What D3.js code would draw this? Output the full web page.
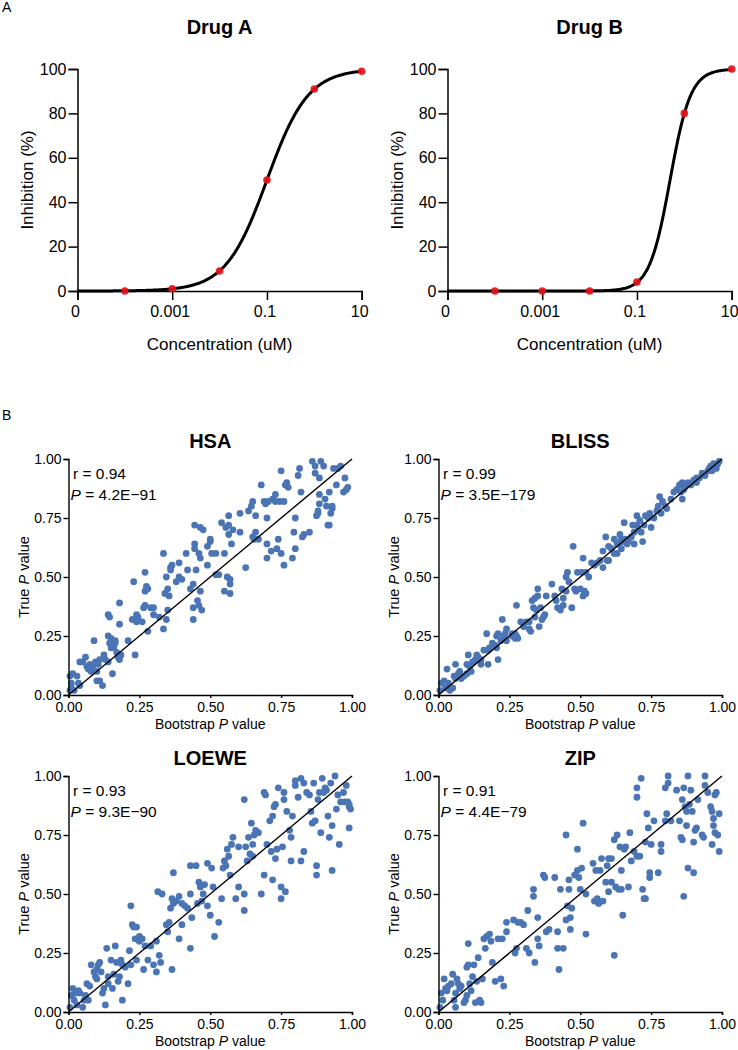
<!DOCTYPE html>
<html>
<head>
<meta charset="utf-8">
<script src="https://cdn.jsdelivr.net/npm/d3@7"></script>
<style>
  body { margin: 0; background: #fff; }
  svg { display: block; }
</style>
</head>
<body>
<svg id="chart" width="738" height="1050"></svg>
<script>
// ---------------- DATA ----------------
const concentrations = [1e-4, 1e-3, 1e-2, 1e-1, 1, 10];
const drugAInhibition = [0, 1, 9, 50, 91, 99];
const drugBInhibition = [0, 0, 0, 4, 80, 100];
// fitted dose-response parameters
const drugAIC50 = 0.1, drugAHill = 1;
const drugBIC50 = 0.5, drugBHill = 2;
const concTickValues = [1e-5, 1e-3, 1e-1, 10];
const concTickLabels = ["0", "0.001", "0.1", "10"];
const inhibitionTicks = [0, 20, 40, 60, 80, 100];
const pTicks = [0, 0.25, 0.5, 0.75, 1];

const hsaPoints = [
[0.005,0.02],[0.01,0.05],[0.005,0.08],[0.015,0.09],[0.03,0.08],[0.035,0.05],[0.02,0.02],[0.04,0.04],[0.04,0.14],[0.01,0.03],
[0.05,0.14],[0.06,0.16],[0.065,0.12],[0.07,0.11],[0.075,0.13],[0.08,0.10],[0.085,0.12],[0.09,0.23],[0.095,0.14],[0.10,0.06],
[0.10,0.10],[0.105,0.13],[0.11,0.15],[0.11,0.06],[0.12,0.04],[0.125,0.17],[0.13,0.15],[0.14,0.34],[0.145,0.33],[0.14,0.25],
[0.145,0.22],[0.15,0.24],[0.15,0.20],[0.14,0.14],[0.155,0.09],[0.16,0.20],[0.165,0.22],[0.165,0.23],[0.17,0.18],[0.175,0.16],
[0.18,0.30],[0.18,0.39],[0.18,0.15],[0.185,0.17],[0.21,0.23],[0.225,0.32],[0.23,0.48],[0.235,0.17],[0.24,0.34],[0.24,0.31],
[0.245,0.33],[0.26,0.31],[0.265,0.37],[0.27,0.44],[0.27,0.52],[0.275,0.46],[0.28,0.45],[0.28,0.27],[0.29,0.37],[0.30,0.37],
[0.30,0.34],[0.27,0.38],[0.32,0.33],[0.335,0.60],[0.335,0.28],[0.34,0.43],[0.345,0.50],[0.345,0.32],[0.35,0.36],[0.35,0.45],
[0.355,0.42],[0.36,0.54],[0.365,0.55],[0.36,0.53],[0.38,0.48],[0.39,0.50],[0.39,0.56],[0.40,0.49],[0.415,0.60],[0.42,0.53],
[0.43,0.45],[0.44,0.32],[0.44,0.37],[0.44,0.47],[0.445,0.64],[0.445,0.62],[0.445,0.72],[0.45,0.53],[0.455,0.40],[0.46,0.38],
[0.46,0.60],[0.465,0.58],[0.465,0.71],[0.465,0.44],[0.47,0.36],[0.475,0.70],[0.49,0.55],[0.49,0.63],[0.50,0.65],[0.50,0.66],
[0.505,0.60],[0.52,0.60],[0.53,0.51],[0.52,0.51],[0.55,0.44],[0.55,0.60],[0.54,0.73],[0.555,0.71],[0.56,0.50],[0.565,0.72],
[0.565,0.76],[0.565,0.68],[0.57,0.49],[0.57,0.47],[0.57,0.43],[0.58,0.70],[0.575,0.64],[0.605,0.69],[0.605,0.77],[0.625,0.54],
[0.635,0.78],[0.645,0.80],[0.65,0.82],[0.65,0.67],[0.655,0.66],[0.66,0.69],[0.66,0.76],[0.67,0.66],[0.68,0.89],[0.69,0.82],
[0.695,0.81],[0.70,0.58],[0.70,0.64],[0.70,0.75],[0.705,0.82],[0.715,0.61],[0.72,0.83],[0.73,0.82],[0.73,0.85],[0.735,0.62],
[0.74,0.66],[0.745,0.82],[0.75,0.95],[0.75,0.60],[0.76,0.55],[0.76,0.82],[0.765,0.89],[0.77,0.90],[0.775,0.88],[0.79,0.58],
[0.795,0.69],[0.80,0.75],[0.80,0.62],[0.81,0.93],[0.815,0.96],[0.82,0.86],[0.825,0.67],[0.83,0.68],[0.85,0.69],[0.86,0.99],
[0.87,0.97],[0.87,0.94],[0.875,0.76],[0.88,0.78],[0.88,0.77],[0.885,0.85],[0.885,0.92],[0.885,0.81],[0.89,0.99],[0.90,0.97],
[0.905,0.83],[0.91,0.80],[0.915,0.72],[0.92,0.72],[0.92,0.86],[0.925,0.77],[0.93,0.79],[0.93,0.80],[0.935,0.96],[0.945,0.89],
[0.95,0.96],[0.97,0.86],[0.975,0.92],[0.98,0.87],[0.985,0.88],[0.96,0.97]
];

const blissPoints = [
[0.005,0.02],[0.01,0.05],[0.02,0.06],[0.025,0.03],[0.03,0.11],[0.035,0.05],[0.04,0.02],[0.05,0.03],[0.055,0.08],[0.06,0.13],
[0.06,0.07],[0.07,0.09],[0.075,0.10],[0.08,0.07],[0.09,0.08],[0.10,0.13],[0.10,0.09],[0.105,0.17],[0.11,0.12],[0.115,0.10],
[0.12,0.14],[0.13,0.15],[0.135,0.17],[0.14,0.16],[0.15,0.15],[0.15,0.13],[0.16,0.19],[0.17,0.26],[0.175,0.19],[0.175,0.13],
[0.18,0.20],[0.19,0.22],[0.20,0.21],[0.205,0.20],[0.205,0.25],[0.21,0.15],[0.21,0.26],[0.22,0.23],[0.225,0.32],[0.23,0.25],
[0.235,0.26],[0.24,0.28],[0.24,0.23],[0.26,0.25],[0.27,0.24],[0.27,0.26],[0.275,0.38],[0.28,0.24],[0.29,0.31],[0.30,0.29],
[0.31,0.31],[0.32,0.31],[0.32,0.28],[0.325,0.27],[0.33,0.40],[0.335,0.37],[0.34,0.33],[0.34,0.41],[0.345,0.36],[0.35,0.45],
[0.35,0.42],[0.355,0.29],[0.36,0.37],[0.365,0.32],[0.37,0.33],[0.375,0.34],[0.38,0.42],[0.40,0.47],[0.41,0.42],[0.415,0.40],
[0.42,0.37],[0.43,0.36],[0.435,0.45],[0.44,0.38],[0.44,0.41],[0.45,0.44],[0.45,0.50],[0.455,0.52],[0.46,0.48],[0.47,0.37],
[0.475,0.63],[0.48,0.45],[0.485,0.44],[0.49,0.52],[0.50,0.45],[0.505,0.52],[0.51,0.42],[0.51,0.58],[0.515,0.44],[0.52,0.43],
[0.52,0.52],[0.53,0.50],[0.54,0.56],[0.55,0.55],[0.56,0.56],[0.57,0.57],[0.58,0.61],[0.58,0.54],[0.59,0.67],[0.595,0.57],
[0.60,0.63],[0.60,0.57],[0.61,0.62],[0.62,0.60],[0.62,0.66],[0.63,0.60],[0.635,0.64],[0.64,0.68],[0.645,0.62],[0.65,0.65],
[0.655,0.73],[0.66,0.66],[0.665,0.64],[0.67,0.65],[0.68,0.67],[0.685,0.72],[0.69,0.64],[0.69,0.69],[0.70,0.76],[0.70,0.72],
[0.705,0.70],[0.71,0.74],[0.715,0.69],[0.72,0.65],[0.725,0.72],[0.73,0.76],[0.74,0.75],[0.745,0.77],[0.75,0.71],[0.76,0.75],
[0.77,0.78],[0.775,0.80],[0.78,0.84],[0.785,0.77],[0.79,0.82],[0.80,0.80],[0.805,0.79],[0.82,0.83],[0.83,0.86],[0.84,0.87],
[0.85,0.89],[0.86,0.90],[0.86,0.83],[0.865,0.87],[0.87,0.88],[0.88,0.90],[0.89,0.89],[0.90,0.91],[0.91,0.92],[0.92,0.92],
[0.93,0.94],[0.94,0.93],[0.95,0.95],[0.955,0.96],[0.96,0.97],[0.965,0.95],[0.97,0.98],[0.975,0.97],[0.98,0.96],[0.985,0.98],
[0.99,0.99],[0.91,0.90],[0.855,0.86],[0.63,0.64],[0.645,0.66],[0.26,0.26],[0.275,0.25]
];

const loewePoints = [
[0.005,0.02],[0.01,0.07],[0.015,0.10],[0.02,0.05],[0.025,0.08],[0.03,0.03],[0.035,0.09],[0.04,0.08],[0.05,0.02],[0.055,0.05],
[0.06,0.07],[0.065,0.12],[0.07,0.05],[0.075,0.11],[0.08,0.20],[0.09,0.17],[0.095,0.15],[0.10,0.18],[0.10,0.14],[0.105,0.20],
[0.11,0.21],[0.115,0.17],[0.12,0.08],[0.125,0.10],[0.13,0.03],[0.135,0.27],[0.14,0.15],[0.14,0.12],[0.15,0.22],[0.155,0.10],
[0.16,0.16],[0.165,0.28],[0.17,0.21],[0.175,0.13],[0.18,0.15],[0.185,0.22],[0.19,0.05],[0.19,0.20],[0.20,0.19],[0.21,0.12],
[0.215,0.26],[0.22,0.45],[0.22,0.20],[0.225,0.37],[0.23,0.36],[0.235,0.31],[0.24,0.36],[0.24,0.22],[0.25,0.32],[0.25,0.30],
[0.26,0.31],[0.265,0.18],[0.27,0.28],[0.28,0.22],[0.29,0.28],[0.30,0.20],[0.31,0.17],[0.31,0.30],[0.315,0.51],[0.32,0.24],
[0.325,0.21],[0.33,0.50],[0.345,0.37],[0.35,0.34],[0.355,0.38],[0.36,0.44],[0.365,0.48],[0.365,0.18],[0.37,0.46],[0.37,0.59],
[0.38,0.47],[0.39,0.31],[0.39,0.49],[0.40,0.46],[0.40,0.37],[0.41,0.45],[0.42,0.44],[0.43,0.27],[0.43,0.50],[0.435,0.40],
[0.43,0.62],[0.45,0.62],[0.455,0.46],[0.46,0.55],[0.465,0.53],[0.47,0.47],[0.475,0.50],[0.48,0.54],[0.49,0.45],[0.49,0.63],
[0.50,0.41],[0.505,0.61],[0.51,0.53],[0.515,0.32],[0.53,0.38],[0.54,0.48],[0.545,0.61],[0.55,0.64],[0.555,0.62],[0.56,0.69],
[0.565,0.66],[0.57,0.58],[0.575,0.71],[0.58,0.74],[0.59,0.48],[0.60,0.70],[0.60,0.53],[0.62,0.50],[0.62,0.43],[0.62,0.90],
[0.625,0.70],[0.63,0.64],[0.635,0.74],[0.64,0.67],[0.645,0.80],[0.65,0.66],[0.65,0.71],[0.655,0.75],[0.66,0.77],[0.67,0.76],
[0.68,0.50],[0.69,0.58],[0.69,0.93],[0.695,0.92],[0.70,0.71],[0.71,0.81],[0.715,0.68],[0.72,0.83],[0.72,0.56],[0.725,0.87],
[0.73,0.88],[0.73,0.65],[0.735,0.69],[0.74,0.95],[0.75,0.53],[0.75,0.48],[0.755,0.70],[0.76,0.90],[0.76,0.93],[0.765,0.51],
[0.77,0.85],[0.78,0.77],[0.785,0.74],[0.785,0.64],[0.79,0.83],[0.80,0.96],[0.80,0.98],[0.81,0.91],[0.82,0.64],[0.82,0.99],
[0.83,0.97],[0.83,0.68],[0.84,0.93],[0.85,0.92],[0.855,0.85],[0.86,0.80],[0.865,0.97],[0.87,0.81],[0.875,0.62],[0.875,0.58],
[0.88,0.90],[0.885,0.93],[0.89,0.76],[0.895,0.99],[0.90,0.93],[0.905,0.95],[0.91,0.94],[0.915,0.83],[0.92,0.74],[0.925,0.97],
[0.93,0.60],[0.93,0.79],[0.94,1.00],[0.945,0.86],[0.95,0.92],[0.955,0.71],[0.96,0.89],[0.97,0.93],[0.975,0.89],[0.98,0.96],
[0.985,0.89],[0.99,0.87],[0.99,0.78],[0.99,0.88],[0.995,0.86]
];

const zipPoints = [
[0.005,0.02],[0.01,0.08],[0.015,0.05],[0.02,0.14],[0.025,0.10],[0.03,0.09],[0.035,0.11],[0.045,0.12],[0.05,0.16],[0.055,0.05],
[0.06,0.08],[0.06,0.02],[0.065,0.14],[0.07,0.12],[0.075,0.10],[0.08,0.11],[0.09,0.04],[0.095,0.05],[0.10,0.07],[0.10,0.19],
[0.105,0.20],[0.105,0.29],[0.11,0.12],[0.115,0.09],[0.12,0.15],[0.125,0.20],[0.13,0.04],[0.135,0.13],[0.14,0.23],[0.145,0.05],
[0.15,0.04],[0.155,0.14],[0.16,0.31],[0.165,0.27],[0.17,0.32],[0.18,0.33],[0.185,0.30],[0.19,0.21],[0.20,0.13],[0.21,0.31],
[0.22,0.14],[0.225,0.31],[0.23,0.11],[0.24,0.34],[0.24,0.38],[0.265,0.39],[0.27,0.25],[0.275,0.27],[0.28,0.38],[0.29,0.38],
[0.30,0.37],[0.31,0.27],[0.315,0.43],[0.32,0.25],[0.335,0.52],[0.335,0.49],[0.34,0.21],[0.35,0.31],[0.35,0.40],[0.355,0.28],
[0.37,0.58],[0.375,0.57],[0.38,0.34],[0.39,0.35],[0.41,0.57],[0.42,0.34],[0.42,0.27],[0.425,0.18],[0.43,0.52],[0.44,0.27],
[0.45,0.75],[0.45,0.39],[0.455,0.45],[0.46,0.56],[0.46,0.52],[0.465,0.35],[0.465,0.40],[0.47,0.44],[0.48,0.58],[0.49,0.60],
[0.49,0.69],[0.495,0.57],[0.50,0.52],[0.505,0.61],[0.51,0.80],[0.52,0.33],[0.52,0.50],[0.545,0.63],[0.55,0.47],[0.555,0.60],
[0.56,0.48],[0.565,0.46],[0.57,0.60],[0.575,0.65],[0.58,0.47],[0.59,0.55],[0.595,0.62],[0.60,0.65],[0.60,0.51],[0.61,0.65],
[0.61,0.55],[0.62,0.73],[0.62,0.24],[0.625,0.53],[0.63,0.75],[0.635,0.52],[0.64,0.70],[0.645,0.60],[0.645,0.52],[0.65,0.41],
[0.655,0.69],[0.66,0.70],[0.67,0.53],[0.675,0.76],[0.68,0.64],[0.69,0.68],[0.70,0.66],[0.70,0.91],[0.70,0.95],[0.71,0.66],
[0.715,0.99],[0.72,0.52],[0.725,0.48],[0.73,0.48],[0.73,0.72],[0.735,0.84],[0.74,0.78],[0.745,0.57],[0.745,0.59],[0.75,0.71],
[0.76,0.81],[0.775,0.59],[0.785,0.68],[0.785,0.71],[0.80,0.81],[0.80,0.95],[0.805,0.84],[0.81,0.97],[0.81,1.00],[0.82,0.81],
[0.84,0.94],[0.85,0.81],[0.855,0.74],[0.86,0.90],[0.86,0.73],[0.865,0.95],[0.865,0.49],[0.87,0.87],[0.875,0.85],[0.875,0.79],
[0.88,0.61],[0.88,1.00],[0.885,0.88],[0.89,0.94],[0.895,0.85],[0.90,0.72],[0.90,0.59],[0.905,0.77],[0.91,0.78],[0.915,0.90],
[0.93,0.75],[0.935,0.74],[0.94,0.96],[0.94,1.00],[0.95,0.93],[0.96,0.87],[0.965,0.85],[0.965,0.71],[0.97,0.79],[0.975,0.92],
[0.975,0.76],[0.98,0.93],[0.985,0.75],[0.99,0.84],[0.99,0.68],[0.97,0.82]
];

const methodNames = ["HSA", "BLISS", "LOEWE", "ZIP"];
const methodR = ["0.94", "0.99", "0.93", "0.91"];
const methodP = ["4.2E\u221291", "3.5E\u2212179", "9.3E\u221290", "4.4E\u221279"];

// ---------------- DRAWING ----------------
const FONT = "'Liberation Sans', Arial, Helvetica, sans-serif";
const svg = d3.select("#chart").style("font-family", FONT);

svg.append("text").attr("x", 2).attr("y", 12).attr("font-size", 14).text("A");
svg.append("text").attr("x", 2).attr("y", 420).attr("font-size", 14).text("B");

function drugPanel(left, title, inhib, ic50, hill) {
  const right = left + 284.2, top = 69, bottom = 291;
  const x = d3.scaleLog().domain([1e-5, 10]).range([left, right]);
  const y = d3.scaleLinear().domain([0, 100]).range([bottom, top]);
  const g = svg.append("g");

  g.append("text").attr("x", (left + right) / 2).attr("y", 33.5)
    .attr("text-anchor", "middle").attr("font-size", 20).attr("font-weight", "bold").text(title);

  const xAxis = g.append("g").attr("transform", `translate(0,${bottom})`)
    .call(d3.axisBottom(x).tickValues(concTickValues)
      .tickFormat((d, i) => concTickLabels[i]).tickSizeOuter(0).tickSize(9).tickPadding(6));
  const yAxis = g.append("g").attr("transform", `translate(${left},0)`)
    .call(d3.axisLeft(y).tickValues(inhibitionTicks).tickSizeOuter(0).tickSize(9).tickPadding(2));
  [xAxis, yAxis].forEach(a => {
    a.selectAll("path, line").attr("stroke", "#000").attr("stroke-width", 1.5);
    a.selectAll("text").attr("font-size", 16).attr("fill", "#000").attr("font-family", FONT);
  });
  xAxis.selectAll("text").attr("dx", -2.5);

  g.append("text").attr("x", (left + right) / 2).attr("y", 350)
    .attr("text-anchor", "middle").attr("font-size", 17).text("Concentration (uM)");
  g.append("text").attr("transform", `translate(${left - 44.5},${(top + bottom) / 2}) rotate(-90)`)
    .attr("text-anchor", "middle").attr("font-size", 17).text("Inhibition (%)");

  const logs = d3.range(-5, 1.0001, 0.02);
  const curve = logs.map(l => {
    const c = Math.pow(10, l);
    const r = Math.pow(c / ic50, hill);
    return [c, 100 * r / (1 + r)];
  });
  g.append("path").datum(curve)
    .attr("fill", "none").attr("stroke", "#000").attr("stroke-width", 3)
    .attr("d", d3.line().x(d => x(d[0])).y(d => y(d[1])).curve(d3.curveBasis));

  g.selectAll("circle.pt").data(concentrations.map((c, i) => [c, inhib[i]]))
    .join("circle").attr("class", "pt")
    .attr("cx", d => x(d[0])).attr("cy", d => y(d[1])).attr("r", 3.8)
    .attr("fill", "#e3131b").attr("opacity", 0.92);
}

drugPanel(77.5, "Drug A", drugAInhibition, drugAIC50, drugAHill);
drugPanel(447.5, "Drug B", drugBInhibition, drugBIC50, drugBHill);

function scatterPanel(left, top, name, pts, rVal, pVal) {
  const right = left + 283.5, bottom = top + 236;
  const x = d3.scaleLinear().domain([0, 1]).range([left, right]);
  const y = d3.scaleLinear().domain([0, 1]).range([bottom, top]);
  const g = svg.append("g");

  g.append("text").attr("x", (left + right) / 2).attr("y", top - 11.5)
    .attr("text-anchor", "middle").attr("font-size", 20).attr("font-weight", "bold").text(name);

  g.selectAll("circle").data(pts).join("circle")
    .attr("cx", d => x(d[0])).attr("cy", d => y(d[1])).attr("r", 3.4)
    .attr("fill", "#4a74b4");

  g.append("line").attr("x1", x(0)).attr("y1", y(0)).attr("x2", x(1)).attr("y2", y(1))
    .attr("stroke", "#000").attr("stroke-width", 1.4);

  const fmt = d3.format(".2f");
  const xAxis = g.append("g").attr("transform", `translate(0,${bottom})`)
    .call(d3.axisBottom(x).tickValues(pTicks).tickFormat(fmt).tickSizeOuter(0).tickSize(3).tickPadding(4.5));
  const yAxis = g.append("g").attr("transform", `translate(${left},0)`)
    .call(d3.axisLeft(y).tickValues(pTicks).tickFormat(fmt).tickSizeOuter(0).tickSize(5).tickPadding(2));
  [xAxis, yAxis].forEach(a => {
    a.selectAll("path, line").attr("stroke", "#000").attr("stroke-width", 1.4);
    a.selectAll("text").attr("font-size", 14).attr("fill", "#000").attr("font-family", FONT);
  });

  const xl = g.append("text").attr("x", (left + right) / 2).attr("y", bottom + 34)
    .attr("text-anchor", "middle").attr("font-size", 14);
  xl.append("tspan").text("Bootstrap ");
  xl.append("tspan").attr("font-style", "italic").text("P");
  xl.append("tspan").text(" value");

  const yl = g.append("text").attr("transform", `translate(${left - 39.5},${(top + bottom) / 2}) rotate(-90)`)
    .attr("text-anchor", "middle").attr("font-size", 14.5);
  yl.append("tspan").text("True ");
  yl.append("tspan").attr("font-style", "italic").text("P");
  yl.append("tspan").text(" value");

  g.append("text").attr("x", left + 4.5).attr("y", top + 19.5).attr("font-size", 15.5).text("r = " + rVal);
  const pt = g.append("text").attr("x", left + 2).attr("y", top + 41).attr("font-size", 15.5);
  pt.append("tspan").attr("font-style", "italic").text("P");
  pt.append("tspan").text(" = " + pVal);
}

scatterPanel(68.5, 459, methodNames[0], hsaPoints, methodR[0], methodP[0]);
scatterPanel(438.5, 459, methodNames[1], blissPoints, methodR[1], methodP[1]);
scatterPanel(68.5, 776, methodNames[2], loewePoints, methodR[2], methodP[2]);
scatterPanel(438.5, 776, methodNames[3], zipPoints, methodR[3], methodP[3]);
</script>
</body>
</html>
